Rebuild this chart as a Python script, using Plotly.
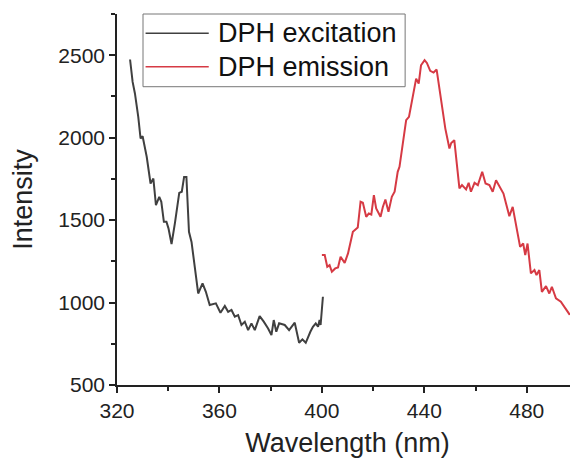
import plotly.graph_objects as go

# DPH excitation spectrum (wavelength nm, intensity)
exc_wl = [325.1, 326.1, 327.0, 328.3, 329.2, 330.0, 331.6, 333.1, 334.2, 335.2, 336.5, 337.3,
          338.3, 339.3, 340.1, 341.3, 342.6, 344.3, 345.3, 346.2, 347.1, 348.1, 349.1, 351.7,
          353.4, 354.7, 356.2, 358.6, 360.4, 362.1, 363.4, 364.7, 366.0, 367.3, 368.6, 369.9,
          371.2, 372.5, 373.8, 375.7, 377.3, 379.0, 380.3, 381.2, 382.2, 383.3, 385.5, 387.2,
          389.4, 391.1, 392.4, 393.7, 395.5, 396.5, 397.6, 398.5, 399.1, 399.5, 400.4]
exc_int = [2474, 2338, 2268, 2126, 1995, 2009, 1884, 1722, 1752, 1591, 1641, 1611,
           1490, 1490, 1450, 1355, 1480, 1665, 1672, 1762, 1762, 1429, 1368, 1055,
           1116, 1065, 985, 995, 938, 979, 944, 955, 914, 924, 864, 884,
           833, 874, 833, 918, 884, 843, 803, 894, 823, 874, 864, 833,
           878, 756, 777, 756, 823, 853, 874, 853, 894, 864, 1035]

# DPH emission spectrum
emi_wl = [400.0, 401.1, 402.1, 403.0, 403.9, 405.2, 406.3, 407.3, 408.9, 410.2, 412.1, 413.4,
          414.0, 415.1, 416.0, 417.3, 418.3, 419.3, 420.3, 421.2, 422.9, 423.8, 424.8, 426.0,
          427.3, 428.4, 429.6, 430.3, 432.9, 434.0, 436.8, 437.8, 438.7, 440.1, 441.0, 442.3,
          443.6, 444.8, 446.6, 448.2, 449.8, 450.5, 451.7, 453.7, 454.7, 456.3, 457.3, 458.2,
          459.6, 460.9, 462.6, 463.9, 465.4, 466.7, 468.0, 469.6, 470.9, 471.9, 473.2, 474.5,
          475.8, 477.4, 478.6, 479.4, 480.3, 481.6, 483.0, 483.8, 484.9, 485.9, 487.5, 488.8,
          489.8, 491.4, 493.3, 495.3, 496.6, 498.2, 499.7]
emi_int = [1288, 1288, 1217, 1227, 1187, 1207, 1213, 1278, 1241, 1298, 1429, 1450,
           1455, 1611, 1605, 1520, 1540, 1534, 1651, 1571, 1520, 1580, 1625, 1550,
           1641, 1672, 1793, 1823, 2106, 2126, 2358, 2328, 2439, 2470, 2453, 2405,
           2395, 2413, 2227, 2055, 1934, 1968, 1985, 1692, 1712, 1686, 1726, 1672,
           1726, 1712, 1793, 1722, 1712, 1672, 1742, 1692, 1661, 1601, 1524, 1580,
           1470, 1338, 1358, 1288, 1358, 1177, 1197, 1167, 1197, 1065, 1100, 1055,
           1096, 1025, 1005, 955, 930, 934, 904]

series_names = ["DPH excitation", "DPH emission"]
series_colors = ["#404040", "#d63a44"]

x_ticks = [320, 360, 400, 440, 480]
y_ticks = [500, 1000, 1500, 2000, 2500]

FONT = "Liberation Sans, Arial, sans-serif"
AX = "#222222"

fig = go.Figure()
for xs, ys, nm, col in [(exc_wl, exc_int, series_names[0], series_colors[0]),
                        (emi_wl, emi_int, series_names[1], series_colors[1])]:
    fig.add_trace(go.Scatter(x=xs, y=ys, mode="lines", name=nm,
                             line=dict(color=col, width=2), showlegend=False))

# legend box drawn in paper coordinates
fig.add_shape(type="rect", xref="paper", yref="paper", x0=0.0564, x1=0.625, y0=0.804, y1=1.0,
              line=dict(color="#777777", width=1), fillcolor="white", layer="above")
for i, (nm, col) in enumerate(zip(series_names, series_colors)):
    yy = 0.948 - i * 0.090
    fig.add_shape(type="line", xref="paper", yref="paper", x0=0.062, x1=0.199, y0=yy, y1=yy,
                  line=dict(color=col, width=1.5), layer="above")
    fig.add_annotation(xref="paper", yref="paper", x=0.214, y=yy, text=nm, showarrow=False,
                       xanchor="left", yanchor="middle",
                       font=dict(size=27, family=FONT, color="#111111"))

# the page places the figure 8px from the top-left corner, so size it to the visible window
fig.update_layout(
    width=570, height=453,
    margin=dict(l=109, r=0, t=6, b=76),
    paper_bgcolor="white", plot_bgcolor="white",
    font=dict(family=FONT, color=AX),
    showlegend=False,
    xaxis=dict(range=[320, 500], tickvals=x_ticks, ticktext=[str(v) for v in x_ticks],
               automargin=False,
               showgrid=False, zeroline=False, showline=True, linecolor=AX, linewidth=1.5,
               ticks="outside", ticklen=6, tickwidth=1.5, tickcolor=AX,
               tickfont=dict(size=21, family=FONT, color=AX),
               minor=dict(tickvals=[340, 380, 420, 460, 500], ticks="outside", ticklen=4,
                          tickwidth=1.5, tickcolor=AX),
               title=dict(text="Wavelength (nm)", font=dict(size=27, family=FONT, color=AX),
                          standoff=12)),
    yaxis=dict(range=[500, 2750], tickvals=y_ticks, ticktext=[str(v) for v in y_ticks],
               automargin=False,
               showgrid=False, zeroline=False, showline=True, linecolor=AX, linewidth=1.5,
               ticks="outside", ticklen=6, tickwidth=1.5, tickcolor=AX,
               tickfont=dict(size=21, family=FONT, color=AX),
               minor=dict(tickvals=[750, 1250, 1750, 2250, 2750], ticks="outside", ticklen=4,
                          tickwidth=1.5, tickcolor=AX),
               title=dict(text="Intensity", font=dict(size=27, family=FONT, color=AX),
                          standoff=18)),
)

fig.write_html("out.html")
